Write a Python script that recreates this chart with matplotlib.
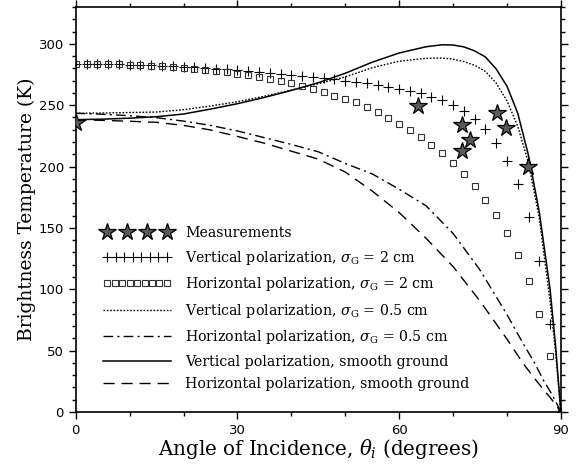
import matplotlib
matplotlib.use("Agg")
import matplotlib.pyplot as plt
import numpy as np
from matplotlib.legend_handler import HandlerLine2D
from matplotlib.ticker import MultipleLocator

# measured brightness temperatures
meas_theta = [0.0, 63.5, 71.7, 73.1, 71.7, 78.2, 79.9, 83.9]
meas_tb = [235.5, 249.6, 234.0, 221.7, 212.4, 243.3, 231.0, 200.0]

# rough-surface model, sigma_G = 2 cm (every 2 degrees)
rough_theta = list(range(0, 92, 2))
v_rough2 = [283.5, 283.5, 283.5, 283.4, 283.3, 283.1, 282.9, 282.6, 282.3, 281.9,
            281.4, 280.9, 280.4, 279.8, 279.1, 278.4, 277.7, 277.0, 276.3, 275.6,
            274.8, 274.0, 273.2, 272.1, 271.0, 269.9, 269.1, 268.1, 266.7, 265.1,
            263.4, 261.8, 259.9, 256.9, 253.9, 250.1, 245.0, 238.7, 230.3, 218.9,
            204.5, 185.6, 159.0, 122.8, 72.0, 0.0]
h_rough2 = [283.5, 283.5, 283.5, 283.4, 283.2, 282.9, 282.6, 282.3, 281.9, 281.2,
            280.5, 279.8, 279.0, 278.0, 277.0, 275.7, 274.5, 273.0, 271.3, 269.6,
            267.7, 265.3, 263.1, 261.0, 257.8, 255.0, 252.2, 248.2, 244.2, 239.6,
            234.7, 229.8, 223.8, 217.6, 210.8, 202.6, 194.0, 184.2, 173.1, 160.5,
            145.5, 128.0, 106.5, 80.0, 45.8, 0.0]

# sigma_G = 0.5 cm and smooth-ground curves
v_half_theta = [0, 5, 10, 15, 20, 25, 30, 35, 40, 45, 50, 55, 60, 65, 68, 70, 72, 74,
                76, 78, 80, 82, 84, 86, 88, 89, 90]
v_half = [243.4, 243.6, 244.0, 244.4, 246.3, 249.3, 252.8, 257.3, 262.3, 267.5, 273.0,
          280.5, 285.8, 288.2, 288.4, 287.5, 285.5, 282.5, 277.5, 268.0, 253.5, 233.0,
          203.0, 158.0, 90.0, 50.0, 0.0]
h_half_theta = [0, 5, 10, 15, 20, 25, 30, 35, 40, 45, 50, 55, 60, 65, 70, 75, 80, 83,
                85, 87, 88, 89, 90]
h_half = [243.4, 242.6, 241.4, 239.8, 237.0, 233.5, 229.0, 223.5, 218.0, 212.0, 202.5,
          194.0, 181.5, 168.0, 145.5, 115.7, 79.4, 55.8, 41.0, 24.0, 17.0, 9.0, 0.0]
v_smooth_theta = [0, 5, 10, 15, 20, 25, 30, 35, 40, 45, 50, 55, 60, 65, 68, 70, 72, 74,
                  76, 78, 80, 82, 84, 86, 88, 89, 90]
v_smooth = [238.2, 238.6, 239.4, 240.6, 242.8, 246.8, 251.2, 256.3, 262.0, 268.3, 276.0,
            285.0, 292.5, 297.6, 299.2, 299.0, 297.5, 294.2, 289.3, 279.5, 265.5, 243.5,
            209.0, 163.0, 100.0, 55.0, 0.0]
h_smooth_theta = [0, 5, 10, 15, 20, 25, 30, 35, 40, 45, 50, 55, 60, 65, 70, 75, 80, 83,
                  85, 87, 88, 89, 90]
h_smooth = [238.2, 237.6, 236.9, 236.0, 233.5, 229.8, 224.5, 219.0, 212.5, 206.0, 195.5,
            180.0, 162.5, 141.5, 118.5, 90.4, 59.4, 39.6, 28.0, 17.0, 12.0, 6.0, 0.0]

plt.rcParams["mathtext.fontset"] = "dejavuserif"
SERIF = "DejaVu Serif"

fig = plt.figure(figsize=(5.83, 4.65), dpi=100)
ax = fig.add_axes([0.130, 0.114, 0.832, 0.871])

lw = 1.0
st, = ax.plot(meas_theta, meas_tb, ls="none", marker="*", ms=13, mfc="#5a5a5a",
              mec="black", mew=0.9, zorder=5, label="Measurements")
pv, = ax.plot(rough_theta, v_rough2, ls="none", marker="+", ms=6.5, mec="black", mew=0.8,
              label=r"Vertical polarization, $\sigma_{\mathrm{G}}$ = 2 cm")
ph, = ax.plot(rough_theta, h_rough2, ls="none", marker="s", ms=5.0, mfc="none",
              mec="#333333", mew=0.8,
              label=r"Horizontal polarization, $\sigma_{\mathrm{G}}$ = 2 cm")
lv, = ax.plot(v_half_theta, v_half, color="black", lw=lw, dashes=(1.2, 1.2),
              label=r"Vertical polarization, $\sigma_{\mathrm{G}}$ = 0.5 cm")
lh, = ax.plot(h_half_theta, h_half, color="black", lw=lw, dashes=(7, 3, 1.5, 3),
              label=r"Horizontal polarization, $\sigma_{\mathrm{G}}$ = 0.5 cm")
sv, = ax.plot(v_smooth_theta, v_smooth, color="black", lw=1.1,
              label="Vertical polarization, smooth ground")
sh, = ax.plot(h_smooth_theta, h_smooth, color="black", lw=lw, dashes=(8, 5),
              label="Horizontal polarization, smooth ground")

ax.set_xlim(0, 90)
ax.set_ylim(0, 330)
ax.xaxis.set_major_locator(MultipleLocator(30))
ax.xaxis.set_minor_locator(MultipleLocator(10))
ax.yaxis.set_major_locator(MultipleLocator(50))
ax.yaxis.set_minor_locator(MultipleLocator(10))
ax.tick_params(which="both", direction="out", top=True, right=True, width=1.0,
               labelsize=9.5, labelfontfamily="DejaVu Sans")
ax.tick_params(which="major", length=5)
ax.tick_params(which="minor", length=3)
for sp in ax.spines.values():
    sp.set_linewidth(1.2)

ax.set_xlabel(r"Angle of Incidence, $\theta_i$ (degrees)", family=SERIF, fontsize=14.3,
              labelpad=0)
ax.set_ylabel("Brightness Temperature (K)", family=SERIF, fontsize=13.4, labelpad=2)

hmap = {st: HandlerLine2D(numpoints=4), pv: HandlerLine2D(numpoints=8),
        ph: HandlerLine2D(numpoints=9)}
leg = ax.legend(handles=[st, pv, ph, lv, lh, sv, sh], handler_map=hmap, frameon=False,
                loc="upper left", bbox_to_anchor=(0.03, 0.49), handlelength=4.8,
                handletextpad=1.0, labelspacing=0.6, prop={"family": SERIF, "size": 10.2})

fig.savefig("out.png", dpi=100)
